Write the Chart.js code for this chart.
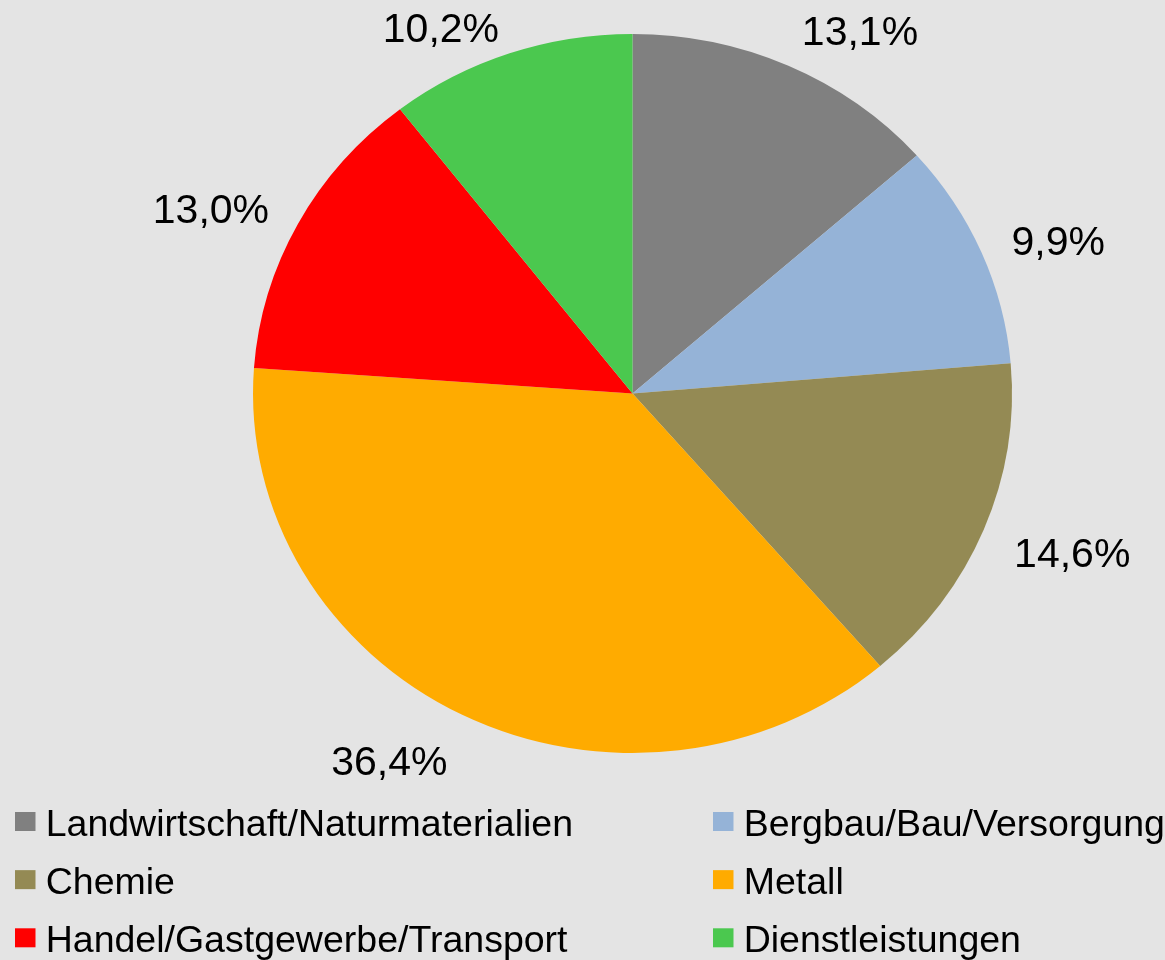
<!DOCTYPE html>
<html>
<head>
<meta charset="utf-8">
<script src="https://cdn.jsdelivr.net/npm/chart.js@4/dist/chart.umd.min.js"></script>
<style>
  html, body { margin: 0; padding: 0; background: #e4e4e4; }
  canvas { display: block; }
</style>
</head>
<body>
<canvas id="c" width="1165" height="960"></canvas>
<script>
// ---- data ----
const categories = [
  "Landwirtschaft/Naturmaterialien",
  "Bergbau/Bau/Versorgung",
  "Chemie",
  "Metall",
  "Handel/Gastgewerbe/Transport",
  "Dienstleistungen"
];
const shares = [13.1, 9.9, 14.6, 36.4, 13.0, 10.2];
const colors = ["#808080", "#95b3d7", "#948a54", "#ffab00", "#ff0000", "#4bc84f"];

// ---- layout constants ----
const STRETCH_X = 1.0556;          // the pie is slightly wider than tall
const LABEL_FONT = 41;
const LEGEND_FONT = 37.5;
const FONT_FAMILY = '"Liberation Sans", Arial, sans-serif';

function fmt(v) { return v.toFixed(1).replace('.', ',') + '%'; }

const bgPlugin = {
  id: 'bg',
  beforeDraw(chart) {
    const ctx = chart.ctx;
    ctx.save();
    ctx.fillStyle = '#e4e4e4';
    ctx.fillRect(0, 0, chart.width, chart.height);
    ctx.restore();
  }
};

const stretchPlugin = {
  id: 'stretch',
  beforeDatasetsDraw(chart) {
    const arc = chart.getDatasetMeta(0).data[0];
    const ctx = chart.ctx;
    ctx.save();
    ctx.translate(arc.x, arc.y);
    ctx.scale(STRETCH_X, 1);
    ctx.translate(-arc.x, -arc.y);
  },
  afterDatasetsDraw(chart) {
    chart.ctx.restore();
  }
};

const labelPlugin = {
  id: 'pctLabels',
  afterDatasetsDraw(chart) {
    const ctx = chart.ctx;
    const meta = chart.getDatasetMeta(0);
    const values = chart.data.datasets[0].data;
    ctx.save();
    ctx.font = LABEL_FONT + 'px ' + FONT_FAMILY;
    ctx.fillStyle = '#000';
    ctx.textAlign = 'center';
    ctx.textBaseline = 'alphabetic';
    const cap = 0.716 * LABEL_FONT;
    const minCenterY = 27;
    meta.data.forEach((arc, i) => {
      const cx = arc.x, cy = arc.y;
      const D = arc.outerRadius + 31;
      const text = fmt(values[i]);
      const w = ctx.measureText(text).width / STRETCH_X;
      const mid = (arc.startAngle + arc.endAngle) / 2;
      const ux = Math.cos(mid), uy = Math.sin(mid);
      const px = D * ux, py = D * uy;
      const centerX = px + Math.sign(ux) * w / 2;
      let centerY = cy + py + 14 * uy + 5.4;
      if (centerY < minCenterY) centerY = minCenterY;
      const x = cx + STRETCH_X * centerX;
      ctx.fillText(text, x, centerY + cap / 2);
    });
    ctx.restore();
  }
};

const legendPlugin = {
  id: 'gridLegend',
  afterDraw(chart) {
    const ctx = chart.ctx;
    const labels = chart.data.labels;
    const bg = chart.data.datasets[0].backgroundColor;
    const colX = [15, 713];
    const firstCenter = 821.5;
    const rowGap = 58.15;
    const boxW = 20.5, boxH = 19;
    ctx.save();
    ctx.font = LEGEND_FONT + 'px ' + FONT_FAMILY;
    ctx.textAlign = 'left';
    ctx.textBaseline = 'alphabetic';
    labels.forEach((lab, i) => {
      const col = i % 2, row = Math.floor(i / 2);
      const x = colX[col];
      const yc = firstCenter + row * rowGap;
      ctx.fillStyle = bg[i];
      ctx.fillRect(x, yc - boxH / 2, boxW, boxH);
      ctx.fillStyle = '#000';
      ctx.fillText(lab, x + 30.7, yc + 14.5);
    });
    ctx.restore();
  }
};

new Chart(document.getElementById('c'), {
  type: 'pie',
  data: {
    labels: categories,
    datasets: [{
      data: shares,
      backgroundColor: colors,
      borderWidth: 0,
      hoverOffset: 0,
      offset: 0
    }]
  },
  options: {
    responsive: false,
    devicePixelRatio: 1,
    animation: false,
    radius: 359.5,
    layout: { padding: { top: 34, bottom: 207, left: 273, right: 173 } },
    plugins: {
      legend: { display: false },
      tooltip: { enabled: false },
      title: { display: false }
    },
    events: []
  },
  plugins: [bgPlugin, stretchPlugin, labelPlugin, legendPlugin]
});
</script>
</body>
</html>
